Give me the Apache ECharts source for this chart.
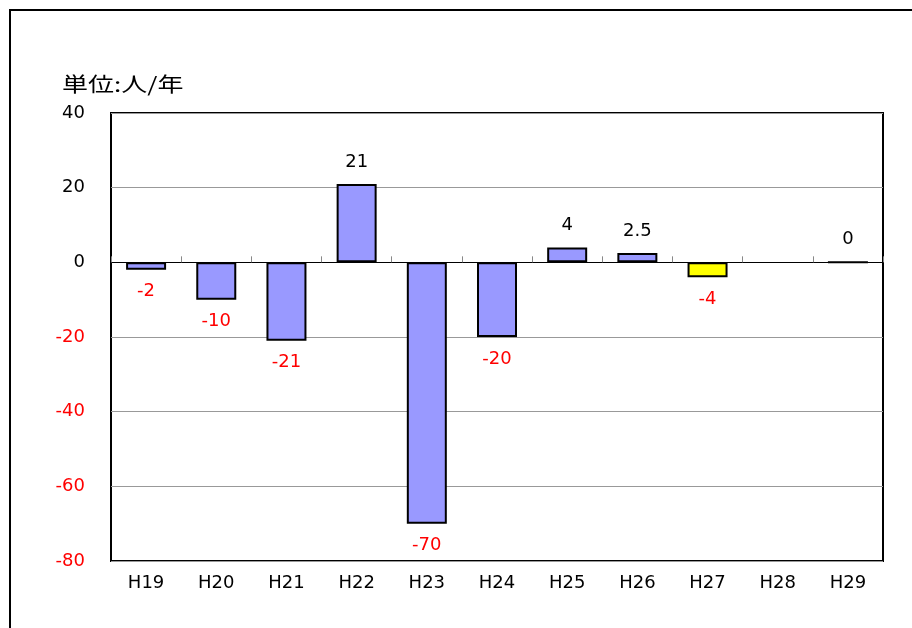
<!DOCTYPE html>
<html><head><meta charset="utf-8">
<script src="https://cdn.jsdelivr.net/npm/echarts@6/dist/echarts.min.js"></script>
<style>html,body{margin:0;padding:0;background:#fff}#c{width:912px;height:628px}</style>
</head><body><div id="c"></div>
<script>
const categories = ['H19','H20','H21','H22','H23','H24','H25','H26','H27','H28','H29'];
const values = [-2, -10, -21, 21, -70, -20, 4, 2.5, -4, null, 0];
const highlightIndex = 8;
const unitLabel = '単位:人/年';

const chart = echarts.init(document.getElementById('c'));
const F = '"DejaVu Sans", Arial, sans-serif';
const FS = 18;
chart.setOption({
  animation: false,
  graphic: [
    {type:'rect', shape:{x:10,y:10,width:1000,height:700}, style:{fill:'none',stroke:'#000',lineWidth:2}},
    {type:'text', x:62, y:74, scaleX:1.3, style:{text:unitLabel, font:'20px "Noto Sans CJK JP", sans-serif', fill:'#000'}}
  ],
  grid: {left:111, right:29, top:113, bottom:67, show:true, borderColor:'#000', borderWidth:2, backgroundColor:'#fff'},
  xAxis: [
    {type:'category', data:categories, position:'bottom',
     axisLine:{onZero:true, lineStyle:{color:'#000', width:1.2}},
     axisTick:{show:true, inside:true, length:6, lineStyle:{color:'#888'}},
     axisLabel:{show:false}},
    {type:'category', data:categories, position:'bottom', gridIndex:0,
     axisLine:{show:false}, axisTick:{show:false},
     axisLabel:{margin:13, fontSize:FS, color:'#000', fontFamily:F}}
  ],
  yAxis: {type:'value', min:-80, max:40, interval:20,
    axisLine:{show:false}, axisTick:{show:false},
    splitLine:{lineStyle:{color:'#999', width:1}},
    axisLabel:{margin:26, fontSize:FS, fontFamily:F,
      formatter: v => v < 0 ? '{n|'+v+'}' : '{p|'+v+'}',
      rich:{n:{color:'#ff0000', fontSize:FS, fontFamily:F}, p:{color:'#000', fontSize:FS, fontFamily:F}}}},
  series: [{
    type:'bar', xAxisIndex:0, barWidth:40,
    data: values.map((v,i) => ({value:v, itemStyle:{color: i===highlightIndex ? '#ffff00' : '#9999ff'},
      label:{position: v < 0 ? 'bottom' : 'top', color: v < 0 ? '#ff0000' : '#000'}})),
    itemStyle:{borderColor:'#000', borderWidth:2},
    label:{show:true, distance:13, fontSize:FS, fontFamily:F,
      formatter: p => p.value === null || p.value === undefined ? '' : String(p.value)}
  }]
});
</script></body></html>
